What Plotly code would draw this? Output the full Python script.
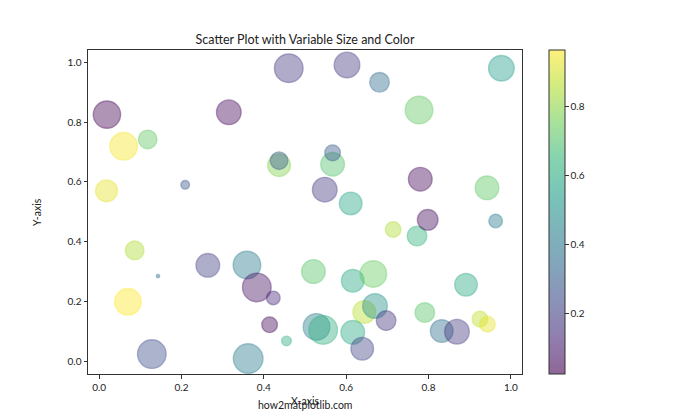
import numpy as np
import plotly.graph_objects as go
import plotly.colors as pc

# ---- data ----
x_vals = [0.019, 0.0595, 0.118, 0.018, 0.209, 0.315, 0.4605, 0.437, 0.437,
          0.602, 0.681, 0.977, 0.777, 0.567, 0.567, 0.548, 0.611, 0.780, 0.942,
          0.0863, 0.143, 0.070, 0.264, 0.359, 0.383, 0.423, 0.414, 0.455, 0.128, 0.362,
          0.714, 0.772, 0.798, 0.963, 0.5205, 0.616, 0.666, 0.891, 0.644, 0.670, 0.697,
          0.791, 0.528, 0.544, 0.616, 0.639, 0.832, 0.869, 0.925, 0.943]
y_vals = [0.825, 0.719, 0.742, 0.570, 0.590, 0.833, 0.980, 0.656, 0.671,
          0.991, 0.933, 0.980, 0.840, 0.659, 0.697, 0.574, 0.528, 0.609, 0.580,
          0.371, 0.285, 0.199, 0.321, 0.322, 0.247, 0.212, 0.122, 0.068, 0.024, 0.009,
          0.441, 0.419, 0.473, 0.469, 0.300, 0.269, 0.292, 0.256, 0.165, 0.185, 0.136,
          0.163, 0.115, 0.105, 0.097, 0.042, 0.101, 0.099, 0.141, 0.124]
# marker area in points^2 (matplotlib "s")
size_vals = [427, 436, 207, 281, 52, 350, 467, 299, 187,
             378, 229, 378, 436, 324, 150, 350, 299, 324, 324,
             207, 11.5, 406, 324, 436, 467, 117, 150, 63, 467, 498,
             150, 229, 251, 117, 324, 299, 406, 299, 299, 350, 229,
             229, 406, 467, 324, 299, 299, 350, 150, 150]
color_vals = [0.024, 0.95, 0.73, 0.93, 0.28, 0.04, 0.18, 0.78, 0.29,
              0.18, 0.35, 0.55, 0.73, 0.70, 0.29, 0.18, 0.58, 0.04, 0.72,
              0.85, 0.36, 0.965, 0.20, 0.42, 0.07, 0.13, 0.04, 0.60, 0.25, 0.42,
              0.85, 0.63, 0.05, 0.42, 0.71, 0.58, 0.74, 0.59, 0.86, 0.50, 0.17,
              0.71, 0.44, 0.62, 0.59, 0.22, 0.37, 0.18, 0.88, 0.93]
cbar_ticks = [0.2, 0.4, 0.6, 0.8]
x_ticks = [0.0, 0.2, 0.4, 0.6, 0.8, 1.0]
y_ticks = [0.0, 0.2, 0.4, 0.6, 0.8, 1.0]

# ---- styling ----
ALPHA = 0.6
EDGE = 1.4  # marker edge width in px (1 pt)
FONT = "Lato"
TXT = "#222222"

# viridis with alpha (matplotlib style)
vir = pc.sequential.Viridis
cscale = []
for i, c in enumerate(vir):
    r, g, b = pc.hex_to_rgb(c)
    cscale.append([i / (len(vir) - 1), f"rgba({r},{g},{b},{ALPHA})"])

diam = [max(np.sqrt(s) * 100 / 72 - EDGE, 1) for s in size_vals]

fig = go.Figure()
fig.add_trace(go.Scatter(
    x=x_vals, y=y_vals, mode="markers",
    marker=dict(
        size=diam, sizemode="diameter",
        color=color_vals, colorscale=cscale, cmin=0.024, cmax=0.965,
        line=dict(width=EDGE, color=color_vals, colorscale=cscale,
                  cmin=0.024, cmax=0.965),
        showscale=True,
        colorbar=dict(
            x=1.063, xanchor="left", xpad=0, ypad=0,
            y=0.5, yanchor="middle", len=1, lenmode="fraction",
            thickness=16, outlinewidth=1, outlinecolor="#333",
            tickvals=cbar_ticks, ticktext=[f"{v:.1f}" for v in cbar_ticks],
            ticks="outside", ticklen=3.5, tickcolor="#333",
            tickfont=dict(family=FONT, size=10, color=TXT),
        ),
    ),
    hoverinfo="skip",
))

axis_common = dict(
    showgrid=False, zeroline=False, showline=True, mirror=True,
    linecolor="#333", linewidth=1, ticks="outside", ticklen=3.5,
    tickcolor="#333", tickfont=dict(family=FONT, size=10, color=TXT),
)
fig.update_xaxes(range=[-0.027, 1.027], tickvals=x_ticks,
                 ticktext=[f"{v:.1f}" for v in x_ticks], **axis_common)
fig.update_yaxes(range=[-0.0425, 1.041], tickvals=y_ticks,
                 ticktext=[f"{v:.1f}" for v in y_ticks], **axis_common)

fig.update_layout(
    width=700, height=420,
    margin=dict(l=88, r=178, t=50, b=46),
    paper_bgcolor="white", plot_bgcolor="white",
    showlegend=False,
    title=dict(text="Scatter Plot with Variable Size and Color",
               x=0.5, xref="paper", xanchor="center",
               y=1 - 40 / 420, yref="container", yanchor="middle",
               font=dict(family=FONT, size=12.5, color=TXT)),
    annotations=[
        dict(text="X-axis", xref="paper", yref="paper", x=0.5, y=-(401 - 374) / 324,
             xanchor="center", yanchor="middle", showarrow=False,
             font=dict(family=FONT, size=10.5, color=TXT)),
        dict(text="Y-axis", xref="paper", yref="paper", x=(37 - 88) / 434, y=0.5,
             xanchor="center", yanchor="middle", textangle=-90, showarrow=False,
             font=dict(family=FONT, size=10.5, color=TXT)),
        dict(text="how2matplotlib.com", xref="paper", yref="paper", x=0.5,
             y=-(405 - 374) / 324, xanchor="center", yanchor="middle", showarrow=False,
             font=dict(family=FONT, size=10.5, color=TXT)),
    ],
)

fig.write_html("out.html")
